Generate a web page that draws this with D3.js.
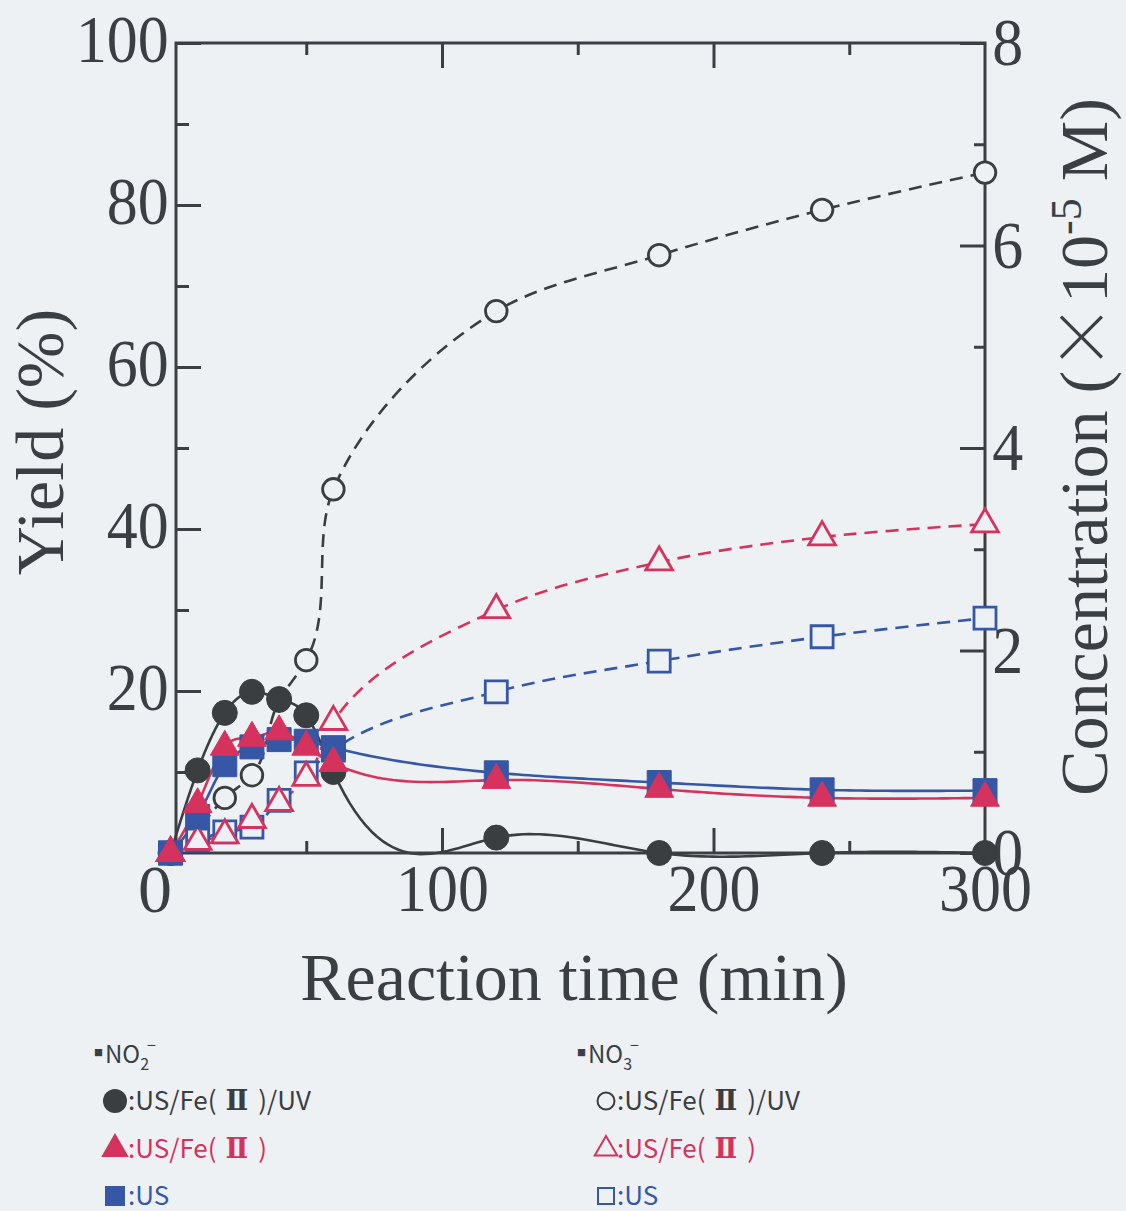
<!DOCTYPE html>
<html>
<head>
<meta charset="utf-8">
<script src="https://cdn.jsdelivr.net/npm/d3@7"></script>
<style>
  html, body { margin: 0; padding: 0; background: #eef1f4; }
  svg { display: block; }
</style>
</head>
<body>
<script>
// Sampling times (min)
const times = [0, 10, 20, 30, 40, 50, 60, 120, 180, 240, 300];

// NO2- yield (%), filled markers, solid lines
const no2UsFeUv = [0, 10.2, 17.3, 19.9, 19.0, 17.0, 10.0, 1.9, 0, 0, 0];
const no2UsFe   = [0, 6.0, 13.1, 14.2, 15.0, 13.1, 11.1, 9.0, 7.9, 6.8, 6.8];
const no2Us     = [0, 4.5, 10.9, 13.1, 14.0, 13.8, 13.0, 9.9, 8.7, 7.8, 7.7];

// NO3- yield (%), open markers, dashed lines
const no3UsFeUv = [0, 3.0, 6.8, 9.6, 18.8, 23.8, 44.9, 66.9, 73.8, 79.4, 84.0];
const no3UsFe   = [0, 1.4, 2.2, 4.1, 6.2, 9.3, 16.2, 30.0, 35.9, 39.0, 40.6];
const no3Us     = [0, 1.6, 2.6, 3.2, 6.5, 9.9, 12.7, 19.9, 23.7, 26.7, 29.0];

// Axis ticks
const xMajor = [100, 200, 300];
const xMinor = [50, 150, 250];
const yMajor = [20, 40, 60, 80, 100];
const yMinor = [10, 30, 50, 70, 90];
const rMajor = [0, 2, 4, 6, 8];
const rMinor = [1, 3, 5, 7];

const W = 1126, H = 1211;
const INK = "#3a3f44";
const C_BLACK = "#3b3e41", C_RED = "#d5335e", C_BLUE = "#3557a6";
const BG = "#eef1f4";
const SERIF = "'Liberation Serif', 'Times New Roman', serif";
const SANS = "'Noto Sans CJK JP', 'DejaVu Sans', sans-serif";

const svg = d3.select("body").append("svg").attr("width", W).attr("height", H);
svg.append("rect").attr("width", W).attr("height", H).attr("fill", BG);

const x = d3.scaleLinear().domain([0, 300]).range([170.5, 985]);
const y = d3.scaleLinear().domain([0, 100]).range([853, 43]);
const yR = d3.scaleLinear().domain([0, 8]).range([853, 43]);
const xLeft = 176;

// ---- frame and axes ----
svg.append("path")
  .attr("d", `M${xLeft},${y(100)}H${x(300)}V${y(0)}H${xLeft}Z`)
  .attr("fill", "none").attr("stroke", INK).attr("stroke-width", 3);

function styleAxis(g, scaleX) {
  g.select(".domain").remove();
  g.selectAll("line").attr("stroke", INK).attr("stroke-width", 3);
  g.selectAll("text")
    .attr("fill", INK)
    .style("font-family", SERIF)
    .style("font-size", "68px")
    .attr("transform", `scale(${scaleX},1)`);
}

// left axis
const gl = svg.append("g").attr("transform", `translate(${xLeft},0)`);
gl.call(d3.axisLeft(y).tickValues(yMajor).tickSize(-25).tickPadding(8).tickFormat(d3.format("d")));
styleAxis(gl, 0.91);
gl.selectAll("text").attr("dy", "0.27em");
const glm = svg.append("g").attr("transform", `translate(${xLeft},0)`);
glm.call(d3.axisLeft(y).tickValues(yMinor).tickSize(-13).tickFormat(""));
styleAxis(glm, 1);

// right axis
const gr = svg.append("g").attr("transform", `translate(${x(300)},0)`);
gr.call(d3.axisRight(yR).tickValues(rMajor).tickSize(-25).tickPadding(8).tickFormat(d3.format("d")));
styleAxis(gr, 0.91);
gr.selectAll("text").attr("dy", "0.32em");
const grm = svg.append("g").attr("transform", `translate(${x(300)},0)`);
grm.call(d3.axisRight(yR).tickValues(rMinor).tickSize(-11).tickFormat(""));
styleAxis(grm, 1);

// bottom axis
const gb = svg.append("g").attr("transform", `translate(0,${y(0)})`);
gb.call(d3.axisBottom(x).tickValues(xMajor).tickSize(-25).tickPadding(10).tickFormat(d3.format("d")));
styleAxis(gb, 0.91);
gb.selectAll(".tick").filter(d => d === 300).select("line").remove();
const gbm = svg.append("g").attr("transform", `translate(0,${y(0)})`);
gbm.call(d3.axisBottom(x).tickValues(xMinor).tickSize(-12).tickFormat(""));
styleAxis(gbm, 1);

// top axis
const gt = svg.append("g").attr("transform", `translate(0,${y(100)})`);
gt.call(d3.axisTop(x).tickValues(xMajor.filter(d => d < 300)).tickSize(-25).tickFormat(""));
styleAxis(gt, 1);
const gtm = svg.append("g").attr("transform", `translate(0,${y(100)})`);
gtm.call(d3.axisTop(x).tickValues(xMinor).tickSize(-12).tickFormat(""));
styleAxis(gtm, 1);

// shared origin label
svg.append("text").attr("x", 155).attr("y", 912)
  .attr("text-anchor", "middle").attr("fill", INK)
  .style("font-family", SERIF).style("font-size", "68px").text("0");

// ---- axis titles ----
svg.append("text").attr("x", 574).attr("y", 1000)
  .attr("text-anchor", "middle").attr("fill", INK)
  .style("font-family", SERIF).style("font-size", "68px")
  .text("Reaction time (min)");

svg.append("text").attr("transform", "translate(63,442) rotate(-90)")
  .attr("text-anchor", "middle").attr("fill", INK)
  .style("font-family", SERIF).style("font-size", "68px")
  .text("Yield (%)");

const ct = svg.append("text").attr("transform", "translate(1107,447) rotate(-90)")
  .attr("text-anchor", "middle").attr("fill", INK)
  .style("font-family", SERIF).style("font-size", "68px");
ct.append("tspan").text("Concentration (");
ct.append("tspan").style("font-family", "'Noto Sans CJK JP'").style("font-weight", "300").text("×");
ct.append("tspan").text("10");
ct.append("tspan").attr("dy", -26).style("font-size", "44px").text("-5");
ct.append("tspan").attr("dy", 26).text(" M)");

// ---- smoothing: natural cubic spline of value against time ----
function naturalSpline(xs, ys) {
  const n = xs.length;
  const h = d3.range(n - 1).map(i => xs[i + 1] - xs[i]);
  const M = new Array(n).fill(0);
  if (n > 2) {
    const m = n - 2;
    const a = [], b = [], c = [], r = [];
    for (let i = 1; i <= m; i++) {
      a.push(h[i - 1]);
      b.push(2 * (h[i - 1] + h[i]));
      c.push(h[i]);
      r.push(6 * ((ys[i + 1] - ys[i]) / h[i] - (ys[i] - ys[i - 1]) / h[i - 1]));
    }
    for (let i = 1; i < m; i++) {
      const w = a[i] / b[i - 1];
      b[i] -= w * c[i - 1];
      r[i] -= w * r[i - 1];
    }
    const sol = new Array(m);
    sol[m - 1] = r[m - 1] / b[m - 1];
    for (let i = m - 2; i >= 0; i--) sol[i] = (r[i] - c[i] * sol[i + 1]) / b[i];
    for (let i = 0; i < m; i++) M[i + 1] = sol[i];
  }
  return function (t) {
    const i = Math.min(n - 2, Math.max(0, d3.bisectRight(xs, t) - 1));
    const hi = h[i], A = (xs[i + 1] - t) / hi, B = (t - xs[i]) / hi;
    return A * ys[i] + B * ys[i + 1] +
      ((A * A * A - A) * M[i] + (B * B * B - B) * M[i + 1]) * hi * hi / 6;
  };
}

function splinePoints(vals) {
  const f = naturalSpline(times, vals);
  const pts = [];
  for (let i = 0; i < times.length - 1; i++) {
    const steps = 30;
    for (let k = 0; k < steps; k++) {
      const t = times[i] + (times[i + 1] - times[i]) * k / steps;
      pts.push([t, f(t)]);
    }
  }
  pts.push([times[times.length - 1], vals[vals.length - 1]]);
  return pts;
}

// ---- series ----
// NO2- curves: natural spline in time; NO3- curves: chordal Catmull-Rom
const series = [
  { v: no3UsFeUv, color: C_BLACK, open: true,  shape: "circle" },
  { v: no3Us,     color: C_BLUE,  open: true,  shape: "square" },
  { v: no3UsFe,   color: C_RED,   open: true,  shape: "triangle" },
  { v: no2UsFeUv, color: C_BLACK, open: false, shape: "circle" },
  { v: no2Us,     color: C_BLUE,  open: false, shape: "square" },
  { v: no2UsFe,   color: C_RED,   open: false, shape: "triangle" },
];

const lineSpline = d3.line().x(d => x(d[0])).y(d => y(d[1]));
const lineCR = d3.line().x(d => x(d[0])).y(d => y(d[1])).curve(d3.curveCatmullRom.alpha(1));

const gLines = svg.append("g");
series.forEach(s => {
  const raw = times.map((t, i) => [t, s.v[i]]);
  gLines.append("path")
    .attr("d", s.open ? lineCR(raw) : lineSpline(splinePoints(s.v)))
    .attr("fill", "none")
    .attr("stroke", s.color)
    .attr("stroke-width", 2.6)
    .attr("stroke-linejoin", "round")
    .attr("stroke-dasharray", s.open ? "13,8" : null);
});

const shapeFor = {
  circle: d3.symbolCircle, square: d3.symbolSquare, triangle: d3.symbolTriangle
};
function markerSize(shape, open) {
  if (shape === "circle") return open ? Math.PI * 10.8 * 10.8 : Math.PI * 12.5 * 12.5;
  if (shape === "square") return open ? 22 * 22 : 24 * 24;
  return open ? 310 : 360;
}

const gMarks = svg.append("g");
series.forEach(s => {
  const sym = d3.symbol().type(shapeFor[s.shape]).size(markerSize(s.shape, s.open));
  gMarks.selectAll(null)
    .data(times.map((t, i) => [t, s.v[i]]))
    .join("path")
    .attr("transform", d => `translate(${x(d[0])},${y(d[1])})`)
    .attr("d", sym)
    .attr("fill", s.open ? BG : s.color)
    .attr("stroke", s.color)
    .attr("stroke-width", s.open ? 2.8 : 1);
});

// ---- legend ----
const lg = svg.append("g").style("font-family", SANS);

function header(xp, sub) {
  const t = lg.append("text").attr("x", xp).attr("y", 1063).attr("fill", INK).style("font-size", "24px");
  t.append("tspan").style("font-size", "9px").attr("dy", -7).text("■");
  t.append("tspan").attr("dy", 7).attr("dx", 2).text("NO");
  t.append("tspan").style("font-size", "16px").attr("dy", 7).text(sub);
  t.append("tspan").style("font-size", "16px").attr("dy", -19).attr("dx", -2).text("−");
}
header(94, "2");
header(577, "3");

const legendRows = [
  { pre: ":US/Fe(", mid: true, post: ")/UV", color: C_BLACK, shape: "circle", y: 1110 },
  { pre: ":US/Fe(", mid: true, post: ")",    color: C_RED,   shape: "triangle", y: 1158 },
  { pre: ":US",     mid: false, post: "",    color: C_BLUE,  shape: "square", y: 1205 },
];

function rowText(xp, r) {
  const t = lg.append("text").attr("x", xp).attr("y", r.y).attr("fill", r.color)
    .style("font-size", "26px");
  t.append("tspan").text(r.pre);
  if (r.mid) {
    t.append("tspan").attr("dx", 9)
      .style("font-family", "'DejaVu Serif', serif").style("font-weight", "bold")
      .style("font-size", "27px").text("Ⅱ");
    t.append("tspan").attr("dx", 10).text(r.post);
  }
}

legendRows.forEach(r => {
  // filled (NO2-) column
  lg.append("path")
    .attr("transform", `translate(115,${r.y - 9})`)
    .attr("d", d3.symbol().type(shapeFor[r.shape]).size(r.shape === "circle" ? Math.PI * 144 : r.shape === "square" ? 400 : 330))
    .attr("fill", r.color);
  rowText(128, r);

  // open (NO3-) column
  lg.append("path")
    .attr("transform", `translate(606,${r.y - 9})`)
    .attr("d", d3.symbol().type(shapeFor[r.shape]).size(r.shape === "circle" ? Math.PI * 72 : r.shape === "square" ? 256 : 220))
    .attr("fill", "none").attr("stroke", r.color).attr("stroke-width", 2);
  rowText(617, r);
});
</script>
</body>
</html>
